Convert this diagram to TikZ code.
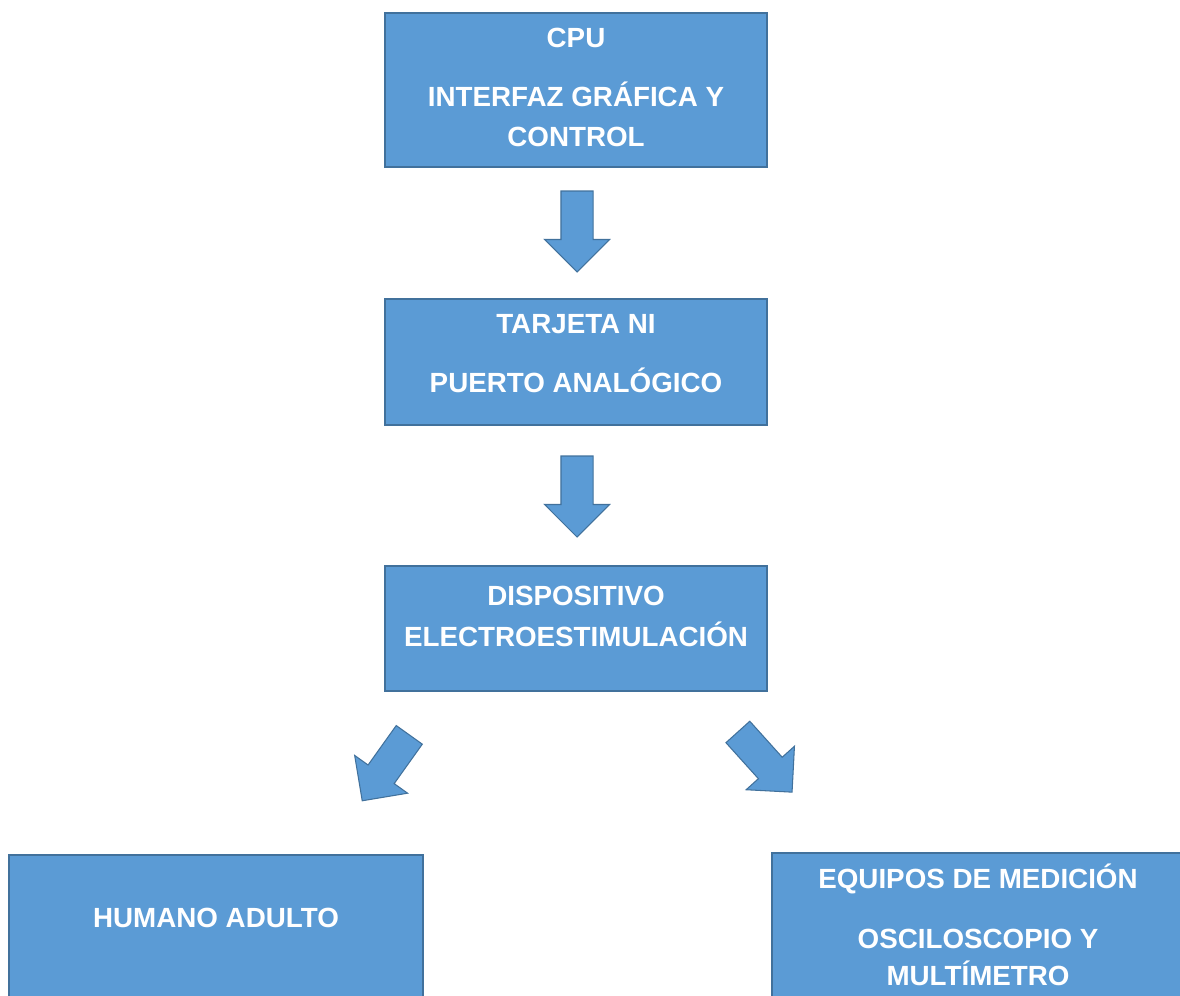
\documentclass[tikz,border=0pt]{standalone}
\usepackage{fontspec}
\setmainfont{Liberation Sans}
\usepackage{tikz}
\usetikzlibrary{shapes.arrows}
\usepackage{xcolor}
\definecolor{azul}{HTML}{5B9BD5}
\definecolor{borde}{HTML}{41719C}

\tikzset{
  caja/.style={draw=borde, fill=azul, line width=0.8pt, inner sep=0pt},
  texto/.style={white, font=\bfseries\fontsize{15.8}{18}\selectfont, anchor=base, inner sep=0pt},
  flecha/.style={single arrow, draw=borde, fill=azul, line width=0.6pt,
    minimum height=1.62cm, minimum width=1.28cm, inner sep=0.31cm,
    single arrow head extend=0.33cm}
}

\begin{document}
\begin{tikzpicture}[x=0.02cm, y=-0.02cm]
\useasboundingbox (0,0) rectangle (1180,996);
\clip (0,0) rectangle (1180,996);

% cajas
\node [caja, minimum width=7.64cm, minimum height=3.08cm] (cpu) at (576,90) {};
\node [caja, minimum width=7.64cm, minimum height=2.52cm] (tarjeta) at (576,362) {};
\node [caja, minimum width=7.64cm, minimum height=2.5cm] (disp) at (576,628.5) {};
\node [caja, minimum width=8.28cm, minimum height=3.3cm] (humano) at (216,937.5) {};
\node [caja, minimum width=8.56cm, minimum height=3.34cm] (equipos) at (986,936.5) {};

% textos
\node [texto] (cpuA) at (576,48) {CPU};
\node [texto] (cpuB) at (576,107) {INTERFAZ GRÁFICA Y};
\node [texto] (cpuC) at (576,147) {CONTROL};
\node [texto] (tarjetaA) at (576,334) {TARJETA NI};
\node [texto] (tarjetaB) at (576,393) {PUERTO ANALÓGICO};
\node [texto] (dispA) at (576,605) {DISPOSITIVO};
\node [texto] (dispB) at (576,646) {ELECTROESTIMULACIÓN};
\node [texto] (humanoA) at (216,927) {HUMANO ADULTO};
\node [texto] (equiposA) at (978,888) {EQUIPOS DE MEDICIÓN};
\node [texto] (equiposB) at (978,948) {OSCILOSCOPIO Y};
\node [texto] (equiposC) at (978,985) {MULTÍMETRO};

% flechas
\node [flecha, rotate=-90] (f1) at (577,223.5) {};
\node [flecha, rotate=-90] (f2) at (577,488.5) {};
\node [flecha, rotate=-125.5] (f3) at (390.4,761.3) {};
\node [flecha, rotate=-48] (f4) at (759.6,756.1) {};

\end{tikzpicture}
\end{document}
